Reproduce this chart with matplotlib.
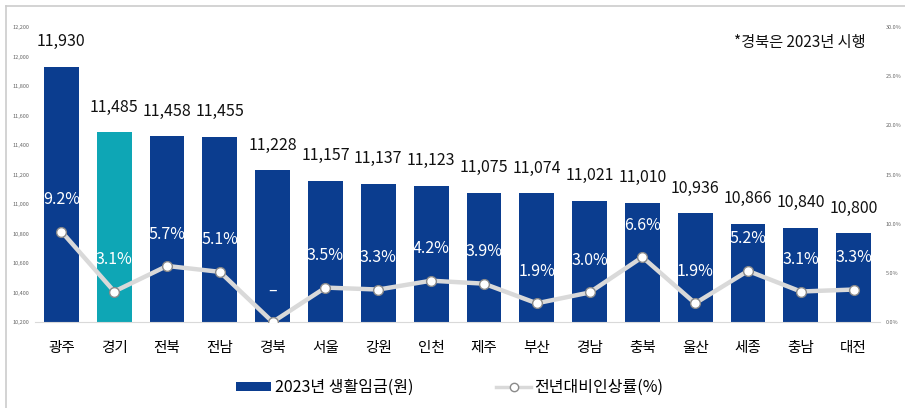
import matplotlib.pyplot as plt
from matplotlib.lines import Line2D
from matplotlib.patches import Patch

plt.rcParams["font.family"] = ["Noto Sans CJK KR", "DejaVu Sans"]

regions = ["광주", "경기", "전북", "전남", "경북", "서울", "강원", "인천",
           "제주", "부산", "경남", "충북", "울산", "세종", "충남", "대전"]
wages = [11930, 11485, 11458, 11455, 11228, 11157, 11137, 11123,
         11075, 11074, 11021, 11010, 10936, 10866, 10840, 10800]
growth = [9.2, 3.1, 5.7, 5.1, 0.0, 3.5, 3.3, 4.2,
          3.9, 1.9, 3.0, 6.6, 1.9, 5.2, 3.1, 3.3]
growth_labels = ["9.2%", "3.1%", "5.7%", "5.1%", "–", "3.5%", "3.3%", "4.2%",
                 "3.9%", "1.9%", "3.0%", "6.6%", "1.9%", "5.2%", "3.1%", "3.3%"]

dark_blue = "#0B3D8F"
teal = "#0EA6B5"
line_gray = "#D9D9D9"

fig = plt.figure(figsize=(9.05, 4.08), dpi=100)
ax = fig.add_axes([0.0387, 0.2108, 0.9337, 0.7230])
ax2 = ax.twinx()

x = list(range(len(regions)))
colors = [teal if r == "경기" else dark_blue for r in regions]
ax.bar(x, wages, width=0.66, color=colors, zorder=2)

ax.set_ylim(10200, 12200)
ax.set_yticks(range(10200, 12201, 200))
ax.set_yticklabels([f"{v:,}" for v in range(10200, 12201, 200)])
ax.set_xlim(-0.5, len(regions) - 0.5)
ax.set_xticks(x)
ax.set_xticklabels(regions, fontsize=10.5)
ax.tick_params(axis="x", length=0, pad=14)
ax.tick_params(axis="y", length=0, labelsize=4, labelcolor="#666666", pad=4)
for side in ["top", "right", "left"]:
    ax.spines[side].set_visible(False)
ax.spines["bottom"].set_color("#D9D9D9")

for xi, w in zip(x, wages):
    ax.annotate(f"{w:,}", (xi, w), xytext=(0, 18), textcoords="offset points",
                ha="center", va="center", fontsize=11.5, color="#111111")

ax2.plot(x, growth, color=line_gray, linewidth=3.2, marker="o", markersize=7,
         markerfacecolor="white", markeredgecolor="#8A8A8A", markeredgewidth=1.0,
         zorder=3)
ax2.set_ylim(0, 30)
ax2.set_yticks(range(0, 31, 5))
ax2.set_yticklabels([f"{v:.1f}%" for v in range(0, 31, 5)])
ax2.tick_params(axis="y", length=0, labelsize=4, labelcolor="#666666", pad=4)
for side in ["top", "right", "left", "bottom"]:
    ax2.spines[side].set_visible(False)

for xi, g, lab in zip(x, growth, growth_labels):
    ax2.annotate(lab, (xi, g), xytext=(0, 23), textcoords="offset points",
                 ha="center", va="center", fontsize=11.5, color="white",
                 fontweight="light")

fig.text(0.957, 0.895, "*경북은 2023년 시행", ha="right", va="center",
         fontsize=11, color="#111111")

handles = [
    Patch(facecolor=dark_blue, edgecolor="none"),
    Line2D([0], [0], color=line_gray, linewidth=2.5, marker="o", markersize=6,
           markerfacecolor="white", markeredgecolor="#8A8A8A"),
]
fig.legend(handles, ["2023년 생활임금(원)", "전년대비인상률(%)"],
           loc="center", bbox_to_anchor=(0.497, 0.05), ncol=2, frameon=False,
           fontsize=11.5, columnspacing=5.2, handlelength=2.2, handleheight=0.5,
           handletextpad=0.2)

# outer frame lines (left and top)
fig.add_artist(Line2D([0.007, 0.007], [0, 0.986], color="#CCCCCC", linewidth=1.2))
fig.add_artist(Line2D([0.007, 1.0], [0.986, 0.986], color="#CCCCCC", linewidth=1.2))

fig.savefig("out.png", dpi=100)
plt.close(fig)
